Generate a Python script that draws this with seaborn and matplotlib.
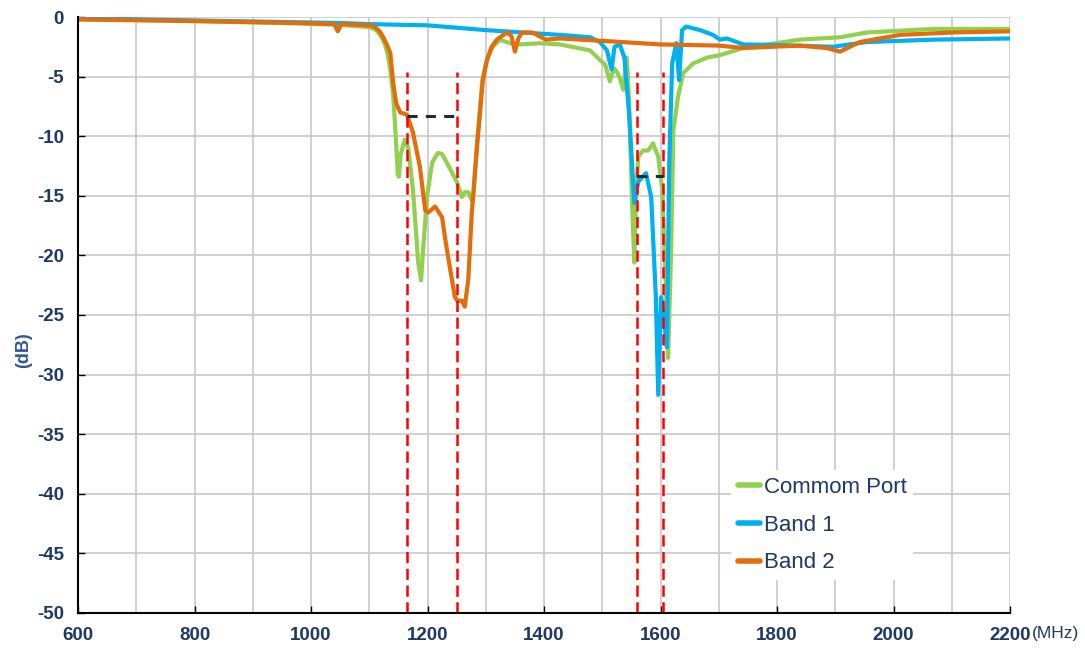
import matplotlib
matplotlib.use("Agg")
import matplotlib.pyplot as plt
from matplotlib.lines import Line2D
from matplotlib.ticker import MultipleLocator
import pandas as pd
import seaborn as sns

# ── Data (MHz, dB) ──────────────────────────────────────────────────────────

cp_freq = [600, 700, 810, 900, 981, 1046, 1101, 1112, 1120, 1127, 1132, 1136,
           1141, 1146, 1149, 1151, 1154, 1161, 1167, 1175, 1184, 1189, 1192,
           1199, 1208, 1218, 1225, 1233, 1251, 1259, 1264, 1270, 1278, 1285,
           1294, 1302, 1312, 1324, 1342, 1359, 1393, 1427, 1479, 1496, 1505,
           1513, 1520, 1525, 1530, 1536, 1542, 1546, 1551, 1555, 1558, 1562,
           1570, 1579, 1587, 1596, 1603, 1610, 1613, 1618, 1622, 1630, 1639,
           1656, 1680, 1702, 1742, 1839, 1908, 1954, 2068, 2200]
cp_db = [-0.2, -0.25, -0.35, -0.45, -0.55, -0.65, -0.85, -1.1, -1.6, -2.3, -3.2,
         -4.4, -6.5, -10.5, -13.2, -13.4, -11.5, -10.3, -11.0, -14.5, -20.6,
         -22.1, -19.8, -15.1, -12.2, -11.4, -11.5, -12.2, -13.9, -15.1, -14.7,
         -14.7, -15.6, -10.5, -5.3, -3.6, -2.5, -1.9, -2.2, -2.3, -2.2, -2.3,
         -2.8, -3.6, -4.0, -5.4, -4.3, -4.6, -5.1, -6.1, -3.4, -7.0, -15.4,
         -20.6, -14.5, -11.7, -11.2, -11.2, -10.6, -11.7, -14.5, -23.5, -28.6,
         -20.0, -9.5, -6.7, -4.7, -3.9, -3.4, -3.2, -2.6, -1.9, -1.7, -1.3,
         -1.0, -1.0]

b1_freq = [600, 810, 1046, 1101, 1200, 1300, 1427, 1479, 1496, 1508, 1516, 1521,
           1530, 1538, 1546, 1555, 1562, 1575, 1584, 1592, 1596, 1601, 1606,
           1611, 1615, 1620, 1627, 1632, 1637, 1644, 1668, 1690, 1702, 1714,
           1742, 1800, 1896, 1954, 2068, 2200]
b1_db = [-0.1, -0.3, -0.5, -0.6, -0.7, -1.1, -1.5, -1.7, -2.1, -2.8, -4.4, -2.5,
         -2.3, -3.4, -8.1, -15.6, -13.8, -13.1, -15.1, -23.5, -31.7, -23.5,
         -25.4, -27.7, -12.2, -3.9, -2.2, -5.3, -1.1, -0.8, -1.1, -1.5, -1.9,
         -1.8, -2.3, -2.35, -2.5, -2.1, -1.9, -1.8]

b2_freq = [600, 810, 981, 1040, 1046, 1052, 1101, 1110, 1118, 1124, 1130, 1136,
           1141, 1146, 1153, 1165, 1175, 1187, 1196, 1201, 1213, 1225, 1230,
           1239, 1247, 1251, 1259, 1264, 1270, 1276, 1285, 1295, 1302, 1310,
           1319, 1336, 1344, 1350, 1356, 1362, 1380, 1403, 1427, 1500, 1600,
           1700, 1742, 1839, 1885, 1908, 1942, 2011, 2100, 2200]
b2_db = [-0.2, -0.35, -0.5, -0.6, -1.2, -0.6, -0.7, -0.85, -1.2, -1.7, -2.3,
         -3.0, -5.5, -7.2, -8.0, -8.2, -9.7, -12.6, -16.2, -16.4, -15.9, -16.8,
         -18.5, -21.2, -23.5, -23.8, -23.8, -24.3, -22.0, -16.4, -10.9, -5.3,
         -3.6, -2.5, -1.9, -1.3, -1.6, -2.9, -1.8, -1.3, -1.3, -1.9, -1.8,
         -2.0, -2.3, -2.4, -2.6, -2.4, -2.6, -2.9, -2.1, -1.5, -1.3, -1.2]

series_names = ["Commom Port", "Band 1", "Band 2"]
series_colors = ["#92D050", "#00B0F0", "#E46C0A"]

band_edges = [1165, 1250, 1560, 1604]
band_top = -4.6
bw_levels = [-8.3, -13.3]
bw_starts = [1165, 1560]
bw_ends = [1250, 1604]

x_ticks = list(range(600, 2201, 200))
y_ticks = list(range(-50, 1, 5))

TEXT = "#1F3864"

sns.set_theme(style="whitegrid")
plt.rcParams["font.family"] = ["Liberation Sans", "DejaVu Sans"]
plt.rcParams["axes.unicode_minus"] = False

frames = []
for name, f, d in zip(series_names, [cp_freq, b1_freq, b2_freq], [cp_db, b1_db, b2_db]):
    frames.append(pd.DataFrame({"freq": f, "db": d, "series": name}))
df = pd.concat(frames, ignore_index=True)
palette = dict(zip(series_names, series_colors))

fig, ax = plt.subplots(figsize=(10.85, 6.54), dpi=100)
fig.subplots_adjust(left=0.0719, right=0.9309, top=0.974, bottom=0.0627)

# draw order: green, blue, orange on top
sns.lineplot(data=df, x="freq", y="db", hue="series",
             hue_order=["Commom Port", "Band 1", "Band 2"],
             palette=palette, estimator=None, sort=False,
             lw=3, legend=False, ax=ax, zorder=3)

ax.vlines(band_edges, -50, band_top, colors="#FF0000", lw=1.8,
          linestyles=[(0, (4.5, 2.2))], zorder=4)
ax.hlines(bw_levels, bw_starts, bw_ends, colors="#1B2A3E", lw=2.2,
          linestyles=[(0, (3.3, 2.7))], zorder=4)

ax.set_xlim(600, 2200)
ax.set_ylim(-50, 0)
ax.set_xticks(x_ticks)
ax.set_yticks(y_ticks)
ax.xaxis.set_minor_locator(MultipleLocator(100))
ax.grid(which="both", color="#C8C8C8", lw=1.2)
ax.tick_params(which="major", direction="in", length=5, width=1, color="black",
               labelsize=13.5, labelcolor=TEXT, pad=10,
               bottom=True, left=True)
ax.tick_params(which="minor", length=0)
for lbl in ax.get_xticklabels() + ax.get_yticklabels():
    lbl.set_fontweight("bold")

for side in ["top", "right"]:
    ax.spines[side].set_visible(False)
for side in ["left", "bottom"]:
    ax.spines[side].set_color("black")
    ax.spines[side].set_linewidth(1.5)
    ax.spines[side].set_zorder(5)

ax.set_xlabel("")
ax.set_ylabel("(dB)", fontsize=13, fontweight="bold", color="#2F5597")
ax.yaxis.set_label_coords(-0.049, 0.441)
ax.text(1.0236, -0.034, "(MHz)", transform=ax.transAxes, fontsize=12.5,
        color=TEXT, ha="left", va="center")

handles = [Line2D([], [], color=c, lw=4) for c in series_colors]
leg = ax.legend(handles, series_names, loc="upper left", bbox_to_anchor=(0.689, 0.258),
                frameon=True, facecolor="white", edgecolor="none", fancybox=False,
                framealpha=1, fontsize=16, handlelength=1.0, handletextpad=0.15,
                labelspacing=0.75, borderpad=0.3, labelcolor=TEXT)
leg.set_zorder(6)

fig.savefig("out.png", dpi=100)
